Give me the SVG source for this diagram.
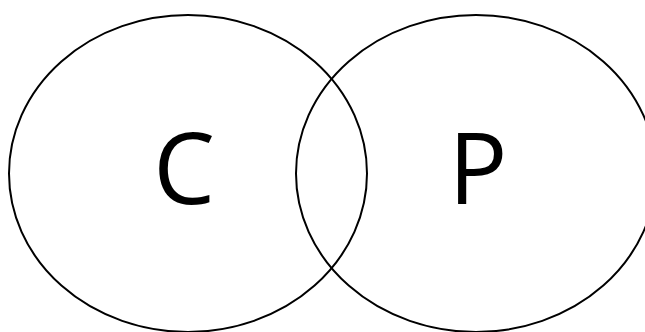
<svg xmlns="http://www.w3.org/2000/svg" width="645" height="332" viewBox="0 0 645 332">
<style>
.set{fill:none;stroke:#000;stroke-width:2}
.lbl{font-family:"Open Sans",sans-serif;font-size:98px;fill:#000;text-anchor:middle}
</style>
<rect width="645" height="332" fill="#fff"/>
<g id="set-c">
<ellipse class="set" cx="188" cy="173.5" rx="179" ry="158.5"/>
<text class="lbl" x="184" y="204">C</text>
</g>
<g id="set-p">
<ellipse class="set" cx="476" cy="173.5" rx="180" ry="158.5"/>
<text class="lbl" x="478" y="204">P</text>
</g>
</svg>
